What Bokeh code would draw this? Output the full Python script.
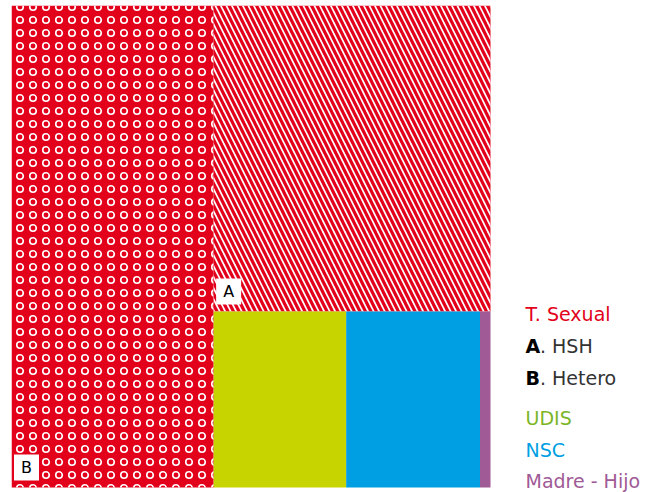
from bokeh.plotting import figure
from bokeh.models import Range1d
from bokeh.core.properties import value
from bokeh.embed import file_html
from bokeh.resources import INLINE

# ---- data ----
categories = ["B", "A", "UDIS", "NSC", "Madre - Hijo"]
shares = [42.2, 36.7, 10.1, 10.2, 0.8]
box_labels = ["B", "A"]
legend_title = "T. Sexual"
legend_keys = ["A", "B"]
legend_key_text = [". HSH", ". Hetero"]
legend_others = ["UDIS", "NSC", "Madre - Hijo"]

RED = "#e2001a"
colors = {"UDIS": "#c8d400", "NSC": "#009fe3", "Madre - Hijo": "#a05a96"}
legend_colors = {"UDIS": "#7ab628", "NSC": "#009fe3", "Madre - Hijo": "#a05a96"}
FONT = value("DejaVu Sans")

# ---- treemap layout (pixel-like data units) ----
TW, TH = 479, 482
total = sum(shares)
rects = {}
wB = TW * shares[0] / total
rects["B"] = (0, wB, 0, TH)
rest = total - shares[0]
hA = TH * shares[1] / rest
rects["A"] = (wB, TW, TH - hA, TH)
bottom_total = sum(shares[2:])
x = wB
for c, v in zip(categories[2:], shares[2:]):
    w = (TW - wB) * v / bottom_total
    rects[c] = (x, x + w, 0, TH - hA)
    x += w

p = figure(width=648, height=492, output_backend="svg", toolbar_location=None,
           x_range=Range1d(0, 637), y_range=Range1d(-5, 482),
           min_border_left=11, min_border_right=0, min_border_top=5, min_border_bottom=0)
p.axis.visible = False
p.grid.visible = False
p.outline_line_color = None
p.background_fill_color = "white"

# B : circles pattern
l, r, b, t = rects["B"]
p.quad(left=[l], right=[r], bottom=[b], top=[t], fill_color=RED, line_color=None,
       hatch_pattern="ring", hatch_color="white", hatch_scale=13, hatch_weight=1.6)
# A : diagonal stripes
l, r, b, t = rects["A"]
p.quad(left=[l], right=[r], bottom=[b], top=[t], fill_color=RED, line_color=None,
       hatch_pattern="left_diagonal_line", hatch_color="white", hatch_scale=11, hatch_weight=1.7)
# solid ones
for c in categories[2:]:
    l, r, b, t = rects[c]
    p.quad(left=[l], right=[r], bottom=[b], top=[t], fill_color=colors[c], line_color=None)

# A / B white label boxes
bx = [rects[k][0] + 15 for k in box_labels]
by = [rects[k][2] + 20 for k in box_labels]
p.rect(x=bx, y=by, width=25, height=26, fill_color="white", line_color=None)
p.text(x=bx, y=by, text=box_labels, text_align="center", text_baseline="middle",
       text_font=FONT, text_font_size="16px", text_color="black")

# legend
LX = 514
FS = "19px"
p.text(x=[LX], y=[174], text=[legend_title], text_font=FONT, text_font_size=FS,
       text_color=RED, text_baseline="alphabetic")
key_y = [142, 110]
p.text(x=[LX] * 2, y=key_y, text=legend_keys, text_font=FONT, text_font_size=FS,
       text_font_style="bold", text_color="black", text_baseline="alphabetic")
p.text(x=[LX + 14.5] * 2, y=key_y, text=legend_key_text, text_font=FONT, text_font_size=FS,
       text_color="#333333", text_baseline="alphabetic")
other_y = [70, 38, 7]
for c, yy in zip(legend_others, other_y):
    p.text(x=[LX], y=[yy], text=[c], text_font=FONT, text_font_size=FS,
           text_color=legend_colors[c], text_baseline="alphabetic")

open("out.html", "w").write(file_html(p, INLINE))
